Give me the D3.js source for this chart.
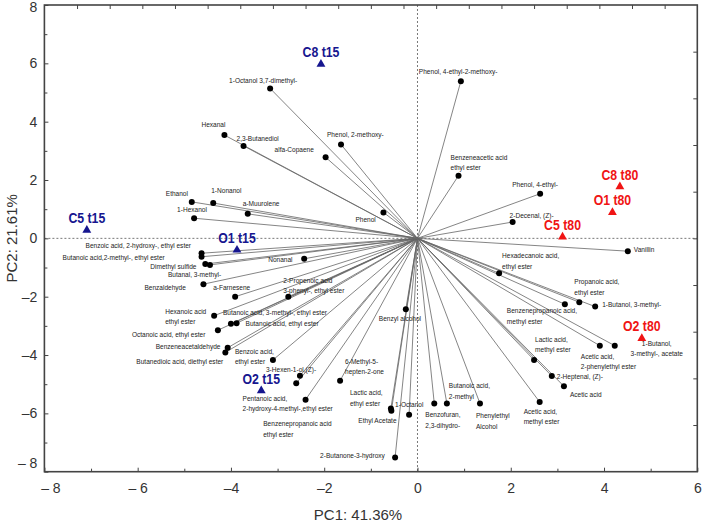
<!DOCTYPE html>
<html><head><meta charset="utf-8">
<script src="https://cdn.jsdelivr.net/npm/d3@7"></script>
<style>
html,body{margin:0;padding:0;background:#fff;}
svg{display:block;}
.vl{font-family:"Liberation Sans",Arial,sans-serif;font-size:8px;fill:#222;}
.sl{font-family:"Liberation Sans",Arial,sans-serif;font-size:15px;font-weight:bold;}
.tk text{font-family:"Liberation Sans",Arial,sans-serif;font-size:14px;fill:#333;}
.ttl{font-family:"Liberation Sans",Arial,sans-serif;font-size:15px;fill:#333;}
</style></head>
<body>
<svg id="c" width="702" height="523"></svg>
<script>
// ---- data ----
const sampleNames = ["C8 t15","C5 t15","O1 t15","O2 t15","C8 t80","O1 t80","C5 t80","O2 t80"];
const sampleTime  = ["t15","t15","t15","t15","t80","t80","t80","t80"];
const samplePC1   = [-2.07,-7.09,-3.87,-3.35,4.34,4.18,3.11,4.81];
const samplePC2   = [5.97,0.28,-0.40,-5.22,1.77,0.89,0.05,-3.43];

const varNames = [
 "1-Octanol 3,7-dimethyl-","Hexanal","2,3-Butanediol","alfa-Copaene","Phenol, 2-methoxy-",
 "Ethanol","1-Nonanol","a-Muurolene","1-Hexanol","Phenol",
 "Phenol, 4-ethyl-2-methoxy-","Benzeneacetic acid\nethyl ester","Phenol, 4-ethyl-","2-Decenal, (Z)-","Vanillin",
 "Hexadecanoic acid,\nethyl ester","Propanoic acid,\nethyl ester","Benzenepropanoic acid,\nmethyl ester","1-Butanol, 3-methyl-","Benzyl alcohol",
 "1-Butanol,\n3-methyl-, acetate","Acetic acid,\n2-phenylethyl ester","Lactic acid,\nmethyl ester","2-Heptenal, (Z)-","Acetic acid",
 "Acetic acid,\nmethyl ester","Phenylethyl\nAlcohol","Butanoic acid,\n2-methyl","Benzofuran,\n2,3-dihydro-","1-Octanol",
 "Ethyl Acetate","Lactic acid,\nethyl ester","2-Butanone-3-hydroxy","6-Methyl-5-\nhepten-2-one","Pentanoic acid,\n2-hydroxy-4-methyl-,ethyl ester",
 "3-Hexen-1-ol,(Z)-","Benzenepropanoic acid\nethyl ester","Benzoic acid,\nethyl ester","Benzeneacetaldehyde","Butanedioic acid, diethyl ester",
 "Octanoic acid, ethyl ester","Butanoic acid, 3-methyl-, ethyl ester","Butanoic acid, ethyl ester","Hexanoic acid\nethyl ester","2-Propenoic acid\n3-phenyl-, ethyl ester",
 "a-Farnesene","Benzaldehyde","Nonanal","Butanal, 3-methyl-","Dimethyl sulfide",
 "Butanoic acid,2-methyl-, ethyl ester","Benzoic acid, 2-hydroxy-, ethyl ester"
];
const varPC1 = [
 -3.16,-4.14,-3.73,-1.97,-1.64,
 -4.84,-4.38,-3.64,-4.79,-0.73,
 0.93,0.88,2.63,2.04,4.51,
 1.75,3.47,3.16,3.81,-0.25,
 4.23,3.91,2.50,2.88,3.14,
 2.62,1.34,0.63,0.36,-0.18,
 -0.56,-0.57,-0.48,-1.66,-2.40,
 -2.52,-2.60,-3.10,-4.07,-4.12,
 -4.28,-4.00,-3.88,-4.36,-2.77,
 -3.91,-4.59,-2.43,-4.45,-4.55,
 -4.63,-4.63
];
const varPC2 = [
 5.14,3.54,3.17,2.78,3.22,
 1.25,1.21,0.84,0.69,0.89,
 5.39,2.15,1.53,0.56,-0.44,
 -1.20,-2.19,-2.26,-2.34,-2.43,
 -3.68,-3.68,-4.17,-4.72,-5.07,
 -5.61,-5.66,-5.66,-5.66,-6.05,
 -5.91,-5.83,-7.51,-4.88,-5.53,
 -4.71,-4.97,-4.17,-3.75,-3.91,
 -3.15,-2.93,-2.91,-2.65,-2.00,
 -2.00,-1.57,-0.70,-0.91,-0.88,
 -0.63,-0.51
];
const xTickValues = [-8,-6,-4,-2,0,2,4,6];
const xTickLabels = ["\u2013 8","\u2013 6","\u20134","\u20132","0","2","4","6"];
const yTickValues = [-8,-6,-4,-2,0,2,4,6,8];
const yTickLabels = ["\u2013 8","\u20136","\u20134","\u20132","0","2","4","6","8"];
const xTitle = "PC1: 41.36%";
const yTitle = "PC2: 21.61%";

// ---- layout (label offsets in px: dx, dy, anchor) ----
const labelOff = [
 [-41,-5,"start"],[-23,-8,"start"],[-7,-5,"start"],[-51,-5,"start"],[-14,-7,"start"],
 [-26,-6,"start"],[-2,-10,"start"],[-5,-8,"start"],[-17,-6,"start"],[-28,10,"start"],
 [-42,-7,"start"],[-8,-16,"start"],[-28,-7,"start"],[-3,-4,"start"],[6,1,"start"],
 [3,-15,"start"],[-5,-18,"start"],[-58,9,"start"],[7,0,"start"],[-27,12,"start"],
 [42,0,"middle"],[-19,13,"start"],[1,-18,"start"],[5,3,"start"],[6,11,"start"],
 [-16,12,"start"],[-4,15,"start"],[2,-15,"start"],[-9,14,"start"],[-14,-8,"start"],
 [-33,12,"start"],[-41,-13,"start"],[-75,1,"start"],[5,-17,"start"],[-63,1,"start"],
 [-34,-4,"start"],[-33,43,"start"],[-38,-6,"start"],[-72,1,"start"],[-89,12,"start"],
 [-86,7,"start"],[-8,-9,"start"],[9,3,"start"],[-49,-2,"start"],[-5,-14,"start"],
 [-22,-7,"start"],[-59,6,"start"],[-36,3,"start"],[-42,12,"start"],[-55,5,"start"],
 [-139,3,"start"],[-116,-5,"start"]
];
const narrow = 0.82;

const L=44.4, R=697.3, T=5, B=471.7;
const x = d3.scaleLinear().domain([-8,6]).range([L,R]);
const y = d3.scaleLinear().domain([-8,8]).range([B,T]);
const svg = d3.select("#c");

// zero lines
svg.append("line").attr("x1",x(0)).attr("x2",x(0)).attr("y1",T).attr("y2",B)
  .attr("stroke","#555").attr("stroke-width",0.8).attr("stroke-dasharray","2,2");
svg.append("line").attr("x1",L).attr("x2",R).attr("y1",y(0)).attr("y2",y(0))
  .attr("stroke","#555").attr("stroke-width",0.8).attr("stroke-dasharray","2,2");

// axes
const gx = svg.append("g").attr("class","tk").attr("transform",`translate(0,${B})`)
  .call(d3.axisBottom(x).tickValues(xTickValues).tickFormat((d,i)=>xTickLabels[i]).tickSize(-4).tickPadding(11));
svg.append("g").attr("class","tk").attr("transform",`translate(0,${B})`)
  .call(d3.axisBottom(x).tickValues(d3.range(-7,6,2)).tickFormat("").tickSize(-3));
const gy = svg.append("g").attr("class","tk").attr("transform",`translate(${L},0)`)
  .call(d3.axisLeft(y).tickValues(yTickValues).tickFormat((d,i)=>yTickLabels[i]).tickSize(-4).tickPadding(7));
svg.append("g").attr("class","tk").attr("transform",`translate(${L},0)`)
  .call(d3.axisLeft(y).tickValues(d3.range(-7,8,2)).tickFormat("").tickSize(-3));
const xt = d3.scaleLinear().domain([0,20]).range([L,R]);
svg.append("g").attr("class","tk").attr("transform",`translate(0,${T})`)
  .call(d3.axisTop(xt).tickValues(d3.range(1,20)).tickFormat("").tickSize(-4));
const yr = d3.scaleLinear().domain([0,10]).range([T,B]);
svg.append("g").attr("class","tk").attr("transform",`translate(${R},0)`)
  .call(d3.axisRight(yr).tickValues(d3.range(1,10)).tickFormat("").tickSize(-4));
svg.selectAll(".tk .domain").remove();
svg.selectAll(".tk line").attr("stroke","#444").attr("stroke-width",1);
gx.selectAll("text").filter(d=>d===-8).attr("dx",6);
gy.selectAll("text").filter(d=>d===-8).attr("dy","-0.3em");
gy.selectAll("text").filter(d=>d===8).attr("dy","0.45em");

// frame
svg.append("rect").attr("x",L).attr("y",T).attr("width",R-L).attr("height",B-T)
  .attr("fill","none").attr("stroke","#444").attr("stroke-width",1.6);

// loadings
const vars = varNames.map((n,i)=>({n,px:varPC1[i],py:varPC2[i],o:labelOff[i]}));
svg.append("g").selectAll("line").data(vars).join("line")
  .attr("x1",x(0)).attr("y1",y(0)).attr("x2",d=>x(d.px)).attr("y2",d=>y(d.py))
  .attr("stroke","#666").attr("stroke-width",0.8);
svg.append("g").selectAll("circle").data(vars).join("circle")
  .attr("cx",d=>x(d.px)).attr("cy",d=>y(d.py)).attr("r",3).attr("fill","#000");
const lg = svg.append("g").selectAll("g").data(vars).join("g")
  .attr("transform",d=>`translate(${x(d.px)+d.o[0]},${y(d.py)+d.o[1]}) scale(${narrow},1)`);
lg.each(function(d){
  const t=d3.select(this).append("text").attr("class","vl").attr("text-anchor",d.o[2]);
  d.n.split("\n").forEach((s,k)=>{
    t.append("tspan").attr("x",0).attr("dy",k?10.5:0).text(s);
  });
});

// samples
const samples = sampleNames.map((n,i)=>({n,t:sampleTime[i],px:samplePC1[i],py:samplePC2[i]}));
const col = d=>d.t==="t15"?"#16168f":"#f01414";
svg.append("g").selectAll("path").data(samples).join("path")
  .attr("d",d3.symbol(d3.symbolTriangle,34))
  .attr("transform",d=>`translate(${x(d.px)},${y(d.py)})`).attr("fill",col);
svg.append("g").selectAll("text").data(samples).join("text").attr("class","sl")
  .attr("transform",d=>`translate(${x(d.px)},${y(d.py)-7}) scale(${narrow},1)`)
  .attr("text-anchor","middle").attr("fill",col).text(d=>d.n);

// titles
svg.append("text").attr("class","ttl").attr("x",358).attr("y",520).attr("text-anchor","middle").text(xTitle);
svg.append("text").attr("class","ttl").attr("transform",`translate(17,${y(0)}) rotate(-90)`)
  .attr("text-anchor","middle").text(yTitle);
</script>
</body></html>
